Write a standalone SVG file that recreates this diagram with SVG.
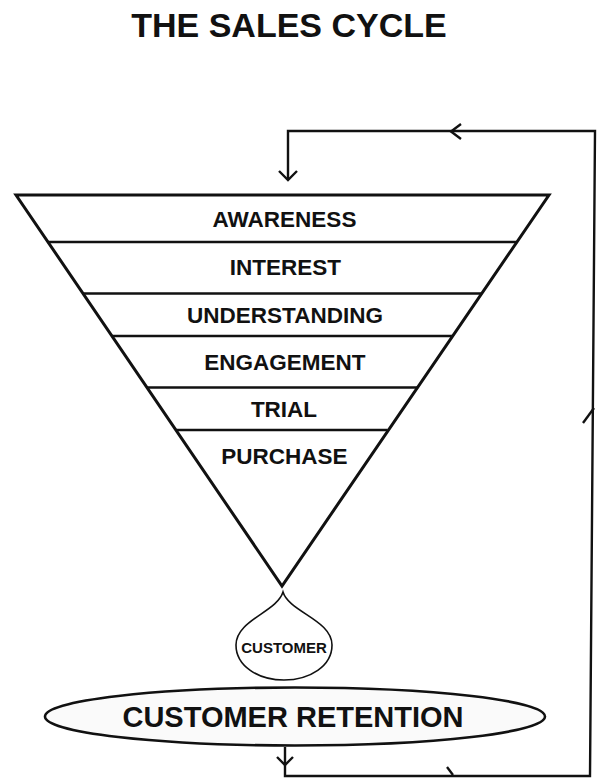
<svg xmlns="http://www.w3.org/2000/svg" width="597" height="779" viewBox="0 0 597 779">
<style>
text{font-family:"Liberation Sans",Arial,sans-serif;font-weight:bold;fill:#111;text-anchor:middle}
.lbl{font-size:22.5px}
.ln{stroke:#111;stroke-width:2.6;fill:none}
.conn{stroke:#111;stroke-width:2.4;fill:none}
</style>
<rect width="597" height="779" fill="#fff"/>
<text id="title" x="289" y="37" style="font-size:34px">THE SALES CYCLE</text>
<g id="funnel">
<polygon points="16,195 549,195 282,586" fill="#fff" stroke="#111" stroke-width="3" stroke-linejoin="miter"/>
<line class="ln" x1="47.5" y1="242" x2="516.5" y2="242"/>
<line class="ln" x1="83" y1="293.5" x2="481" y2="293.5"/>
<line class="ln" x1="112" y1="336" x2="452" y2="336"/>
<line class="ln" x1="147" y1="387.5" x2="417" y2="387.5"/>
<line class="ln" x1="176.5" y1="430" x2="387.5" y2="430"/>
</g>
<g id="awareness"><text class="lbl" x="284.5" y="227">AWARENESS</text></g>
<g id="interest"><text class="lbl" x="285.5" y="275">INTEREST</text></g>
<g id="understanding"><text class="lbl" x="285" y="322.5">UNDERSTANDING</text></g>
<g id="engagement"><text class="lbl" x="285" y="370">ENGAGEMENT</text></g>
<g id="trial"><text class="lbl" x="284" y="416.5">TRIAL</text></g>
<g id="purchase"><text class="lbl" x="284.5" y="464">PURCHASE</text></g>
<g id="customer">
<path d="M283,592 C289,612 332,620 332,645 C332,666 310,680 284,680 C258,680 236,666 236,645 C236,620 277,612 283,592 Z" fill="#fff" stroke="#111" stroke-width="1.6"/>
<text x="284" y="652.5" style="font-size:15px">CUSTOMER</text>
</g>
<g id="retention">
<ellipse cx="295" cy="716.5" rx="250" ry="29" fill="#fafafa" stroke="#111" stroke-width="2.6"/>
<text x="293" y="727" style="font-size:29px">CUSTOMER RETENTION</text>
</g>
<g id="connectors">
<path class="conn" d="M285,747 V776 H590 L595,131 H288 V180"/>
<path class="conn" d="M279,171 L288,180 L297,171"/>
<path class="conn" d="M461,124 L451,131.5 L461,139"/>
<path class="conn" d="M277,757 L285,765 L293,757"/>
<path class="conn" d="M447,767 L453,775"/>
<path class="conn" d="M583,423 L594,408"/>
</g>
</svg>
